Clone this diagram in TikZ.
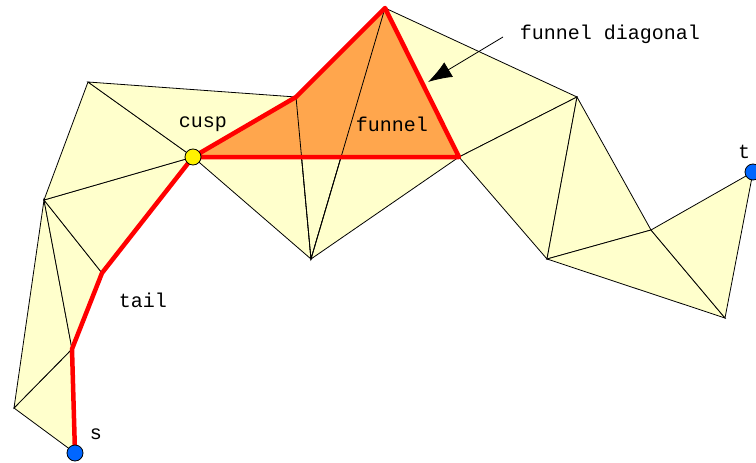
\documentclass[tikz,border=0pt]{standalone}
\usepackage{fontspec}
\setmonofont{Liberation Mono}
\usetikzlibrary{arrows.meta}
\definecolor{triyellow}{RGB}{255,255,204}
\definecolor{funnelorange}{RGB}{255,166,77}
\definecolor{pathred}{RGB}{255,0,0}
\definecolor{endblue}{RGB}{0,102,255}

\begin{document}
\begin{tikzpicture}[x=1pt,y=-1pt,>=Latex,every node/.style={font=\fontsize{20}{23}\selectfont\ttfamily},
  edge/.style={line width=0.8pt},
  redpath/.style={pathred,line width=4.5pt,line join=round,line cap=round},
  vertex/.style={circle,draw,line width=0.8pt,inner sep=0pt,minimum size=16pt}]
\useasboundingbox (0,0) rectangle (756,463);
\coordinate (s) at (75,453);
\coordinate (A) at (14,408);
\coordinate (B) at (72,349);
\coordinate (C) at (44,200);
\coordinate (D) at (102,273);
\coordinate (cusp) at (193,157);
\coordinate (E) at (88,82);
\coordinate (F) at (296,97);
\coordinate (G) at (385,8);
\coordinate (H) at (311,259);
\coordinate (I) at (459,157);
\coordinate (J) at (577,97);
\coordinate (K) at (547,259);
\coordinate (L) at (651,230);
\coordinate (M) at (725,318);
\coordinate (t) at (753,172);
% triangulation
\foreach \a/\b/\c in {s/A/B,A/B/C,B/C/D,C/D/cusp,C/E/cusp,E/F/cusp,cusp/F/H,F/G/H,G/H/I,G/I/J,I/J/K,J/K/L,K/L/M,L/M/t}
  \filldraw[edge,fill=triyellow] (\a) -- (\b) -- (\c) -- cycle;
% funnel
\fill[funnelorange] (cusp) -- (F) -- (G) -- (I) -- cycle;
\draw[edge] (F) -- (H) -- (G);
\draw[redpath] (s) -- (B) -- (D) -- (cusp) -- (F) -- (G) -- (I) -- (cusp);
\node[vertex,fill=yellow] (cuspdot) at (cusp) {};
\node[vertex,fill=endblue] (sdot) at (s) {};
\node[vertex,fill=endblue] (tdot) at (t) {};
% labels
\node (cusplabel) at (203,124) {cusp};
\node (funnellabel) at (392,124) {funnel};
\node (taillabel) at (143,300) {tail};
\node (slabel) at (96,434) {s};
\node (tlabel) at (744,152) {t};
\node (diaglabel) at (610,34) {funnel diagonal};
\coordinate (diagtail) at (503,37);
\coordinate (diagtip) at (428,82);
\draw[edge,-{Latex[length=24pt,width=17pt]}] (diagtail) -- (diagtip);
\end{tikzpicture}
\end{document}
